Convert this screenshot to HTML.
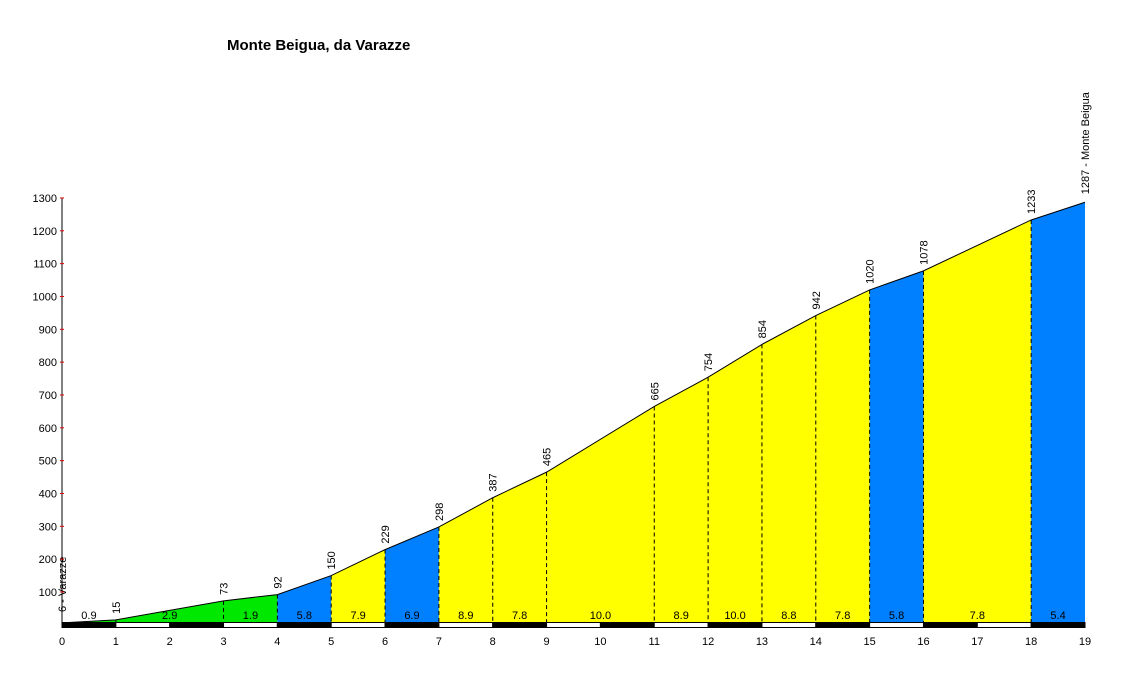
<!DOCTYPE html>
<html><head><meta charset="utf-8"><style>
body{margin:0;background:#fff;font-family:"Liberation Sans",sans-serif}
svg text{font-family:"Liberation Sans",sans-serif;font-size:11px}
</style></head><body>
<svg width="1136" height="673" xmlns="http://www.w3.org/2000/svg">
<text x="227" y="50" style="font-size:15px;font-weight:bold">Monte Beigua, da Varazze</text>
<g id="plot"></g>
</svg>
<script>
const kms=[0,1,3,4,5,6,7,8,9,11,12,13,14,15,16,18,19];
const elev=[6,15,73,92,150,229,298,387,465,665,754,854,942,1020,1078,1233,1287];
const grades=["0.9","2.9","1.9","5.8","7.9","6.9","8.9","7.8","10.0","8.9","10.0","8.8","7.8","5.8","7.8","5.4"];
const segColors=["#00e800","#00e800","#00e800","#0080ff","#ffff00","#0080ff","#ffff00","#ffff00","#ffff00","#ffff00","#ffff00","#ffff00","#ffff00","#0080ff","#ffff00","#0080ff"];
const yTicks=[100,200,300,400,500,600,700,800,900,1000,1100,1200,1300];
const xTicks=[0,1,2,3,4,5,6,7,8,9,10,11,12,13,14,15,16,17,18,19];
const startName="Varazze", endName="Monte Beigua";
const NS="http://www.w3.org/2000/svg";
const g=document.getElementById('plot');
const X=k=>62+k*(1085-62)/19;
const Y=e=>624.8-e*0.32833;
function mk(t,a,p){const e=document.createElementNS(NS,t);for(const k in a)e.setAttribute(k,a[k]);(p||g).appendChild(e);return e;}
for(let i=0;i<kms.length-1;i++){
 const x1=X(kms[i]),x2=X(kms[i+1]);
 const p=mk('polygon',{points:`${x1},623 ${x1},${Y(elev[i])} ${x2},${Y(elev[i+1])} ${x2},623`,fill:segColors[i]});
 
 
 const t=mk('text',{x:(x1+x2)/2,y:619,'text-anchor':'middle'});t.textContent=grades[i];
 
 
}
for(let i=1;i<kms.length-1;i++){
 const l=mk('line',{x1:X(kms[i]),x2:X(kms[i]),y1:Y(elev[i]),y2:623,stroke:'#000','stroke-dasharray':'4,3'});
 
 
}
const pl=mk('polyline',{points:kms.map((k,i)=>X(k)+','+Y(elev[i])).join(' '),fill:'none',stroke:'#000'});


for(let i=0;i<kms.length;i++){
 const x=X(kms[i])+4,y=Y(elev[i])-6;
 let s=String(elev[i]);
 if(i==0)s=elev[i]+" - "+startName;
 if(i==kms.length-1)s=elev[i]+" - "+endName;
 const yy=(i==0)?612:(i==kms.length-1?y-2:y);
 const t=mk('text',{x:x,y:yy,transform:`rotate(-90 ${x} ${yy})`});t.textContent=s;
 
 
}
for(let k=0;k<19;k++){
 const r=mk('rect',{x:X(k),y:622.5,width:X(k+1)-X(k),height:5,fill:k%2?'#fff':'#000',stroke:'#000','stroke-width':1});
 
 
}
const ax=mk('line',{x1:62,x2:62,y1:198,y2:628,stroke:'#000'});


yTicks.forEach(v=>{
 const tk=mk('line',{x1:60,x2:64,y1:Y(v),y2:Y(v),stroke:'#e00000'});
 
 
 const t=mk('text',{x:57,y:Y(v)+4,'text-anchor':'end'});t.textContent=v;
 
 
});
xTicks.forEach(v=>{
 const t=mk('text',{x:X(v),y:645,'text-anchor':'middle'});t.textContent=v;
 
 
});
</script>
</body></html>
